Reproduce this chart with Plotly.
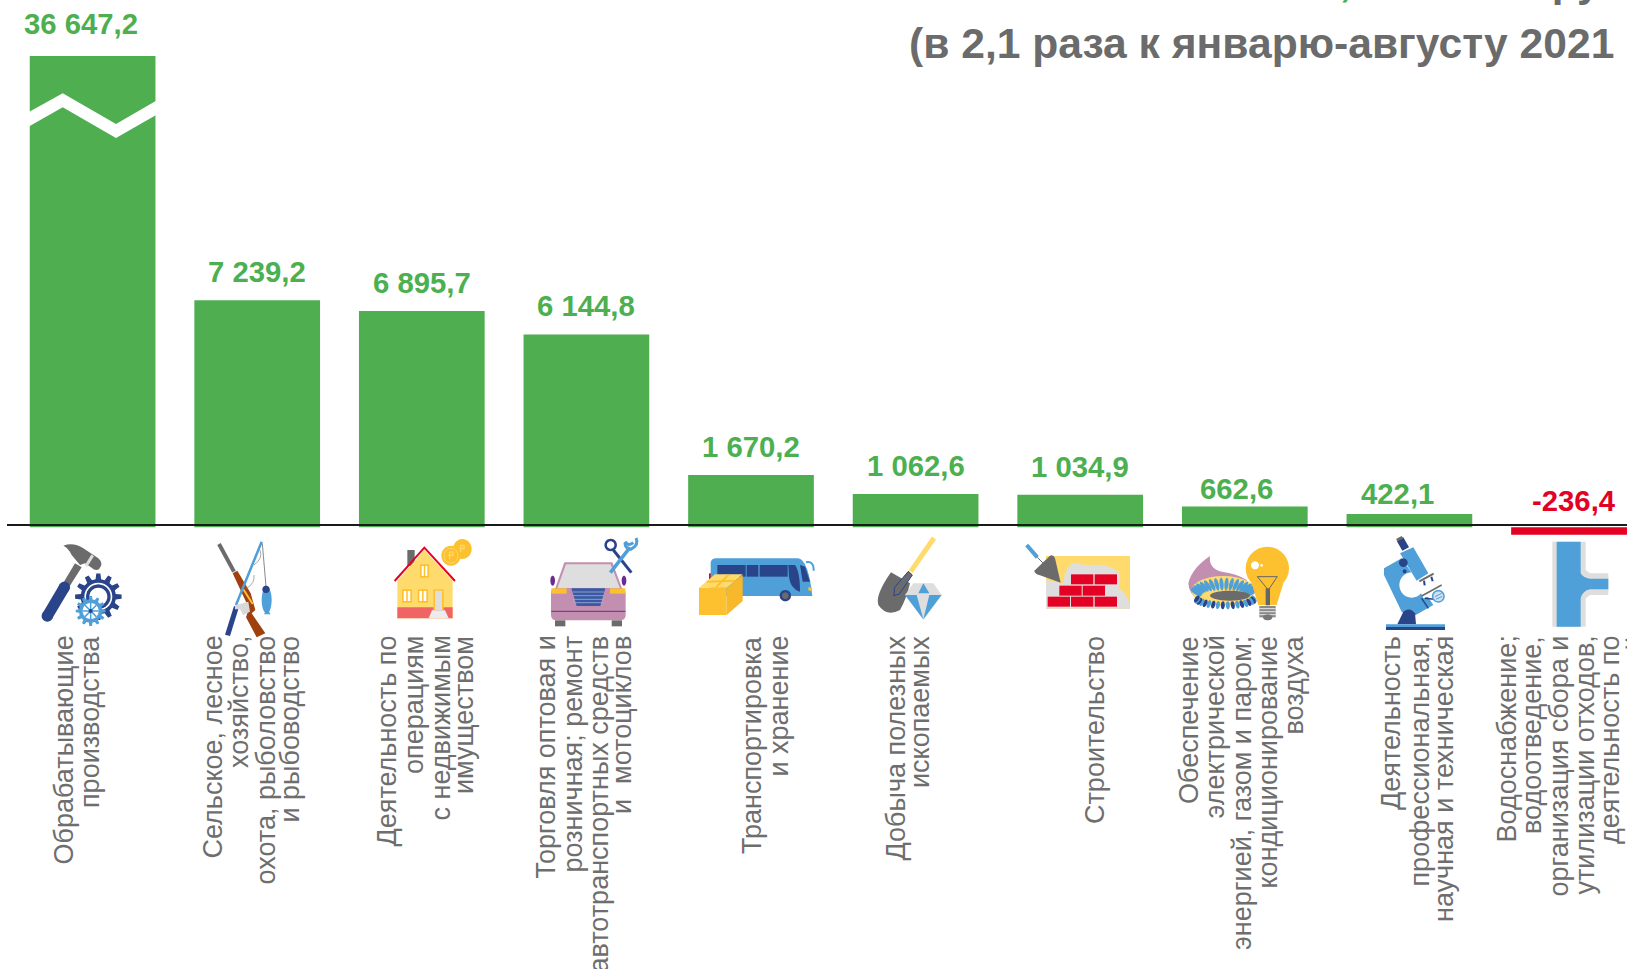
import math
import plotly.graph_objects as go

# ---------- data ----------
CATEGORY_LINES = [
    ["Обрабатывающие", "производства"],
    ["Сельское, лесное", "хозяйство,", "охота, рыболовство", "и рыбоводство"],
    ["Деятельность по", "операциям", "с недвижимым", "имуществом"],
    ["Торговля оптовая и", "розничная; ремонт", "автотранспортных средств", "и  мотоциклов"],
    ["Транспортировка", "и хранение"],
    ["Добыча полезных", "ископаемых"],
    ["Строительство"],
    ["Обеспечение", "электрической", "энергией, газом и паром;", "кондиционирование", "воздуха"],
    ["Деятельность", "профессиональная,", "научная и техническая"],
    ["Водоснабжение;", "водоотведение,", "организация сбора и", "утилизации отходов,",
     "деятельность по", "ликвидации загрязнений"],
]
VALUES = [36647.2, 7239.2, 6895.7, 6144.8, 1670.2, 1062.6, 1034.9, 662.6, 422.1, -236.4]
TITLE_VALUE = "61 542,9"
TITLE_UNIT = "млн руб."
TITLE_LINE2 = "(в 2,1 раза к январю-августу 2021"

# ---------- layout constants (pixels on the 1627x969 page) ----------
W, H = 1627, 969
GREEN, RED, GRAY = "#4FAE50", "#E30224", "#6B6B6B"
TEXT_GREEN = "#4CAF50"
DARK, BLUE, YEL, LYEL, PINK, LGR = "#2A4489", "#4F9FD9", "#FDC02F", "#FFDB6E", "#C38FB0", "#DEDEDE"
BAR0, STEP = 92.6, 164.6
BASE_Y, PX_PER_UNIT = 527.3, 0.03137
PLOT_TOP, PLOT_BOTTOM = 56, 545
VALUE_DX = [-12, 0, 0, 0, 0, 0, 0, -8, -12, 0]
VALUE_BOTTOM_Y = [34.5, 282, 293, 316, 457, 476, 477, 499, 504, 511]
LINE_X = [
    [63, 90], [212, 239, 265, 289], [386, 414, 440, 464], [545, 572, 598, 622],
    [752, 778], [895, 920], [1095, 0][:1], [1189, 1214, 1242, 1267, 1293],
    [1391, 1419, 1444], [1506, 1532, 1558, 1584, 1610, 1637],
]

names = [" ".join(l) for l in CATEGORY_LINES]
colors = [GREEN if v >= 0 else RED for v in VALUES]


def fmt(v):
    return f"{v:,.1f}".replace(",", " ").replace(".", ",")


fig = go.Figure(go.Bar(x=names, y=VALUES, marker=dict(color=colors, line=dict(width=0)),
                       width=0.7637, hoverinfo="x+y"))

annotations = []
for i, v in enumerate(VALUES):
    annotations.append(dict(
        x=i, xref="x", xshift=VALUE_DX[i], y=1 - VALUE_BOTTOM_Y[i] / H, yref="paper", yanchor="bottom",
        yshift=-8, text=fmt(v), showarrow=False,
        font=dict(family="Liberation Sans", size=29.3, color=TEXT_GREEN if v >= 0 else RED, weight="bold")))
    for line, px in zip(CATEGORY_LINES[i], LINE_X[i]):
        annotations.append(dict(
            x=px / W, xref="paper", xanchor="center", y=1 - 634 / H, yref="paper", yanchor="top",
            text=line, textangle=-90, showarrow=False,
            font=dict(family="Liberation Sans", size=27, color="#6E6E6E")))

annotations += [
    dict(x=1616 / W, xref="paper", xanchor="right", y=1 - 43 / H, yref="paper", yanchor="middle",
         text=TITLE_LINE2, showarrow=False,
         font=dict(family="Liberation Sans", size=42.6, color=GRAY, weight="bold")),
    dict(x=1353 / W, xref="paper", xanchor="right", y=1 - 3 / H, yref="paper", yanchor="bottom", yshift=-4,
         text=TITLE_VALUE.split(",")[0] + ",", showarrow=False,
         font=dict(family="Liberation Sans", size=42, color=TEXT_GREEN, weight="bold")),
    dict(x=1455 / W, xref="paper", xanchor="left", y=1 - 3 / H, yref="paper", yanchor="bottom", yshift=-4,
         text=TITLE_UNIT, showarrow=False,
         font=dict(family="Liberation Sans", size=42, color=GRAY, weight="bold")),
]

# ---------- shapes ----------
shapes = []


def to_path(d, ox, oy, sx, sy):
    out = []
    toks = d.replace(",", " ").split()
    k = 0
    while k < len(toks):
        t = toks[k]
        if t.isalpha():
            out.append(t)
            k += 1
        else:
            x = (ox + float(t) / sx) / W
            y = 1 - (oy + float(toks[k + 1]) / sy) / H
            out.append(f"{x:.5f},{y:.5f}")
            k += 2
    return " ".join(out)


class Icon:
    def __init__(self, ox, oy, sx=3.0, sy=3.0):
        self.ox, self.oy, self.sx, self.sy = ox, oy, sx, sy

    def path(self, d, fill=None, line=None, w=0):
        s = dict(type="path", xref="paper", yref="paper", path=to_path(d, self.ox, self.oy, self.sx, self.sy),
                 line=dict(width=w, color=line or "rgba(0,0,0,0)"))
        if fill:
            s["fillcolor"] = fill
        shapes.append(s)

    def poly(self, pts, fill):
        self.path("M " + " L ".join(f"{x} {y}" for x, y in pts) + " Z", fill)

    def seg(self, pts, color, w):
        self.path("M " + " L ".join(f"{x} {y}" for x, y in pts), None, color, w)

    def rect(self, x0, y0, x1, y1, fill):
        self.poly([(x0, y0), (x1, y0), (x1, y1), (x0, y1)], fill)

    def ell(self, cx, cy, rx, ry=None, fill=None, angle=0, line=None, w=0):
        ry = ry or rx
        a = math.radians(angle)
        pts = []
        for k in range(28):
            t = 2 * math.pi * k / 28
            x, y = rx * math.cos(t), ry * math.sin(t)
            pts.append((cx + x * math.cos(a) - y * math.sin(a), cy + x * math.sin(a) + y * math.cos(a)))
        self.path("M " + " L ".join(f"{x:.1f} {y:.1f}" for x, y in pts) + " Z", fill, line, w)

    def gear(self, cx, cy, ro, ri, n, fill):
        pts = []
        for k in range(n):
            for f, r in ((-.3, ri), (-.17, ro), (.17, ro), (.3, ri)):
                t = 2 * math.pi * (k + f) / n
                pts.append((cx + r * math.cos(t), cy + r * math.sin(t)))
        self.poly([(round(x, 1), round(y, 1)) for x, y in pts], fill)


# axis line
shapes.append(dict(type="line", xref="paper", yref="paper", x0=7 / W, x1=1, y0=1 - 525 / H, y1=1 - 525 / H,
                   line=dict(color="#1A1A1A", width=2)))
# white zigzag break across the first bar
Icon(0, 0, 1, 1).poly([(28, 112.6), (62.7, 93.3), (116, 124), (157, 100.2), (157, 114.5), (116, 138),
                       (62.7, 107.3), (28, 127)], "#FFFFFF")

# 1 hammer + gears
a = Icon(30, 530)
a.path("M 100 47 Q 130 35 160 55 L 205 85 Q 222 100 207 118 Q 195 124 185 113 L 165 100 L 150 105 L 125 75 Q 116 55 100 47 Z", GRAY)
a.seg([(168, 108), (188, 76)], LGR, 3)
a.poly([(135, 100), (155, 112), (118, 170), (100, 158)], GRAY)
a.seg([(103, 172), (52, 258)], DARK, 11)
a.ell(103, 172, 17, 17, DARK)
a.ell(52, 258, 17, 17, DARK)
a.gear(205, 200, 70, 53, 12, DARK)
a.ell(205, 200, 42, 42, "#FFFFFF")
a.ell(205, 200, 37, 37, DARK)
a.ell(205, 200, 27, 27, "#FFFFFF")
a.gear(182, 243, 45, 35, 12, BLUE)
a.ell(182, 243, 24, 24, "#FFFFFF")
for ang in range(0, 180, 45):
    dx, dy = 24 * math.cos(math.radians(ang)), 24 * math.sin(math.radians(ang))
    a.seg([(182 - dx, 243 - dy), (182 + dx, 243 + dy)], BLUE, 1.5)
a.ell(182, 243, 6, 6, DARK)

# 2 rifle + rod + fish
a.seg([(567, 42), (612, 125)], GRAY, 4)
a.poly([(608, 130), (622, 122), (662, 190), (676, 240), (665, 250), (706, 310), (680, 322), (648, 262), (657, 235)], "#A0400F")
a.seg([(640, 178), (668, 222)], YEL, 2)
a.seg([(695, 35), (618, 225)], BLUE, 2.5)
a.poly([(612, 228), (626, 234), (600, 318), (585, 314)], DARK)
a.seg([(697, 40), (708, 170)], "#8A8A8A", 1)
a.path("M 690 60 Q 700 85 672 105 M 672 135 Q 675 160 650 175", None, "#AAAAAA", 1)
a.poly([(615, 226), (655, 215), (660, 245), (640, 255), (630, 238), (615, 238)], "#D8D8D8")
a.ell(710, 210, 15, 40, BLUE)
a.ell(708, 178, 11, 11, DARK)
a.poly([(702, 253), (722, 253), (711, 236)], BLUE)

# 3 house + coins
b = Icon(380, 530)
b.rect(82, 60, 104, 108, GRAY)
b.poly([(52, 152), (133, 60), (218, 152), (218, 265), (52, 265)], LYEL)
b.rect(52, 232, 218, 265, "#F06464")
b.seg([(44, 153), (133, 53), (225, 153)], RED, 2)
for x0, y0, x1, y1 in [(120, 103, 147, 143), (66, 178, 96, 218), (113, 178, 144, 218)]:
    b.rect(x0, y0, x1, y1, YEL)
    b.rect(x0 + 5, y0 + 5, x1 - 5, y1 - 5, "#FFFFFF")
    b.seg([((x0 + x1) / 2, y0), ((x0 + x1) / 2, y1)], YEL, 1.5)
b.rect(160, 178, 191, 240, YEL)
b.rect(165, 182, 186, 240, LGR)
b.poly([(146, 265), (156, 241), (195, 241), (206, 265)], "#ECECEC")
b.ell(247, 57, 28, 30, YEL)
b.ell(213, 77, 29, 30, YEL)
b.ell(213, 77, 21, 22, None, line=LYEL, w=1)
b.seg([(209, 88), (209, 66), (219, 66), (219, 76), (205, 76)], LYEL, 1.2)
b.seg([(242, 66), (242, 46), (252, 46), (252, 56), (238, 56)], LYEL, 1.2)

# 4 car + tools
b.ell(518, 152, 7, 15, "#6A2C91")
b.ell(732, 152, 7, 15, "#6A2C91")
b.poly([(525, 178), (553, 97), (697, 97), (727, 178)], PINK)
b.poly([(532, 175), (558, 103), (692, 103), (720, 175)], LGR)
b.path("M 513 190 Q 513 176 528 174 L 722 174 Q 737 176 737 190 L 737 255 Q 737 271 720 271 L 530 271 Q 513 271 513 255 Z", PINK)
b.rect(514, 175, 560, 191, YEL)
b.rect(690, 175, 736, 191, YEL)
b.poly([(574, 175), (676, 175), (661, 228), (590, 228)], "#3B5AA3")
for y in (186, 197, 208, 218):
    b.seg([(578, y), (672, y)], "#9DB0DA", 0.8)
b.seg([(514, 244), (736, 244)], "#6A2C91", 1)
b.rect(525, 271, 556, 289, GRAY)
b.rect(695, 271, 726, 289, GRAY)
b.seg([(700, 60), (754, 128)], DARK, 3)
b.ell(692, 45, 15, 15, None, line=DARK, w=2.5)
b.seg([(691, 128), (750, 52)], BLUE, 3.5)
b.path("M 735 35 Q 745 50 760 38 M 768 24 Q 778 45 752 58 Q 735 55 735 38", None, BLUE, 3)

# 5 bus + box
c = Icon(690, 530)
c.rect(57, 130, 63, 150, RED)
c.path("M 62 100 Q 62 85 80 85 L 325 85 Q 355 90 367 198 L 62 198 Z", BLUE)
c.rect(82, 105, 167, 140, DARK)
c.rect(170, 105, 205, 140, DARK)
c.rect(209, 105, 293, 140, DARK)
c.path("M 295 105 L 315 105 Q 330 125 330 185 Q 300 175 297 140 Z", DARK)
c.poly([(330, 105), (345, 110), (360, 155), (338, 155)], DARK)
c.path("M 348 97 Q 372 92 371 122", None, BLUE, 2)
c.ell(286, 197, 17, 17, DARK)
c.ell(286, 197, 10, 10, GRAY)
c.rect(355, 172, 366, 182, YEL)
c.poly([(27, 173), (110, 173), (110, 255), (27, 255)], YEL)
c.poly([(110, 173), (158, 134), (158, 213), (110, 255)], "#F7B82B")
c.poly([(27, 173), (75, 133), (158, 133), (110, 173)], LYEL)
c.seg([(50, 155), (135, 152)], YEL, 2)
c.seg([(78, 172), (116, 134)], YEL, 2)

# 6 shovel + diamond
c.seg([(732, 24), (662, 125)], LYEL, 5)
c.path("M 603 127 L 660 160 Q 650 205 630 240 Q 590 262 565 225 Q 555 195 603 127 Z", GRAY)
c.poly([(655, 124), (667, 135), (628, 192), (611, 197), (614, 172)], GRAY)
c.seg([(655, 124), (667, 135), (628, 192), (611, 197), (614, 172), (655, 124)], DARK, 1)
c.poly([(670, 160), (730, 160), (755, 195), (700, 270), (645, 195)], LGR)
c.poly([(685, 190), (700, 160), (718, 190)], BLUE)
c.poly([(645, 195), (680, 195), (700, 268)], BLUE)
c.poly([(718, 195), (755, 195), (700, 268)], BLUE)

# 7 bricks + trowel
d = Icon(1020, 530)
d.rect(78, 78, 330, 236, LYEL)
d.path("M 78 150 L 130 160 Q 135 105 165 98 Q 185 105 205 106 Q 250 100 285 118 Q 310 135 295 175 Q 325 190 330 236 L 78 236 Z", LGR)
for x0, y0 in [(153, 133), (224, 133), (118, 167), (188, 167), (83, 200), (153, 200), (224, 200)]:
    d.rect(x0, y0, x0 + 67, y0 + 30, RED)
d.seg([(20, 45), (52, 82)], BLUE, 4)
d.seg([(52, 82), (70, 100)], GRAY, 1)
d.path("M 43 122 L 90 77 Q 100 72 105 85 L 122 158 L 60 136 Q 42 130 43 122 Z", GRAY)

# 8 burner + bulb
d.path("M 570 78 Q 565 115 605 125 Q 650 130 680 150 L 700 210 L 540 215 Q 505 190 505 160 Q 515 115 570 78 Z", PINK)
d.ell(610, 182, 96, 44, LYEL)
for k in range(18):
    t = math.pi * (k + 0.5) / 18
    x, y = 612 - 84 * math.cos(t), 190 - 28 * math.sin(t)
    d.ell(round(x, 1), round(y, 1), 6, 19, BLUE, angle=(x - 612) * 0.7)
for k in range(18):
    t = math.pi * (k + 0.5) / 18
    x, y = 616 + 86 * math.cos(t), 205 + 21 * math.sin(t)
    d.ell(round(x, 1), round(y, 1), 6, 12, DARK if k % 2 else BLUE, angle=-(x - 616) * 0.4)
d.ell(630, 197, 60, 15, GRAY)
d.ell(742, 115, 65, 65, YEL)
d.poly([(695, 160), (790, 160), (770, 225), (715, 225)], YEL)
d.ell(705, 106, 12, 12, "#FFFFFF")
d.ell(725, 106, 4, 4, "#FFFFFF")
d.seg([(712, 140), (772, 140), (745, 180), (712, 140)], "#666666", 1)
d.rect(737, 175, 750, 226, "#666666")
d.rect(718, 228, 767, 262, "#8A8A8A")
for y in (236, 245, 254):
    d.seg([(718, y), (767, y)], "#FFFFFF", 0.8)
d.ell(743, 262, 14, 9, "#777777")

# 9 microscope
e = Icon(1360, 530)
e.poly([(72, 115), (125, 85), (170, 150), (220, 225), (150, 265), (125, 245), (72, 135)], BLUE)
e.ell(155, 165, 37, 38, "#FFFFFF")
e.poly([(165, 150), (230, 130), (240, 190), (190, 205)], "#FFFFFF")
e.poly([(120, 70), (160, 52), (205, 130), (170, 152)], BLUE)
e.poly([(110, 32), (130, 22), (147, 52), (127, 62)], DARK)
e.poly([(108, 27), (125, 18), (130, 25), (113, 34)], GRAY)
e.ell(130, 98, 13, 13, DARK)
e.ell(134, 124, 6, 6, DARK)
e.seg([(178, 154), (221, 131)], GRAY, 2)
e.seg([(192, 152), (194, 166)], DARK, 2)
e.seg([(214, 140), (218, 154)], DARK, 2)
e.seg([(185, 198), (245, 165)], GRAY, 1.5)
e.seg([(185, 205), (205, 235)], DARK, 1.5)
e.seg([(195, 205), (222, 208)], DARK, 1.5)
e.ell(235, 199, 17, 17, "#CFE2F3", line=BLUE, w=1.5)
e.seg([(225, 200), (245, 190)], BLUE, 1)
e.seg([(228, 208), (247, 199)], BLUE, 1)
e.path("M 112 283 L 130 245 Q 150 230 165 250 L 168 283 Z", DARK)
e.rect(78, 283, 255, 291, BLUE)
e.rect(78, 291, 255, 300, DARK)

# 10 pipe
e.poly([(577, 35), (677, 35), (677, 120), (690, 130), (745, 130), (745, 195), (690, 195), (677, 205), (677, 290), (577, 290)], LGR)
e.path("M 590 35 L 662 35 L 662 130 Q 670 145 690 146 L 745 146 L 745 178 L 690 178 Q 668 182 662 205 L 662 290 L 590 290 Z", BLUE)

fig.update_layout(
    width=W, height=H, margin=dict(l=0, r=0, t=0, b=0), paper_bgcolor="white", plot_bgcolor="white",
    showlegend=False, annotations=annotations, shapes=shapes,
    xaxis=dict(type="category", range=[(0 - BAR0) / STEP, (W - BAR0) / STEP], visible=False, fixedrange=True),
    yaxis=dict(range=[(BASE_Y - PLOT_BOTTOM) / PX_PER_UNIT, (BASE_Y - PLOT_TOP) / PX_PER_UNIT], visible=False,
               domain=[1 - PLOT_BOTTOM / H, 1 - PLOT_TOP / H], fixedrange=True),
)
fig.write_html("out.html", config=dict(displayModeBar=False),
               post_script="document.body.style.margin='0';document.body.style.overflow='hidden';")
